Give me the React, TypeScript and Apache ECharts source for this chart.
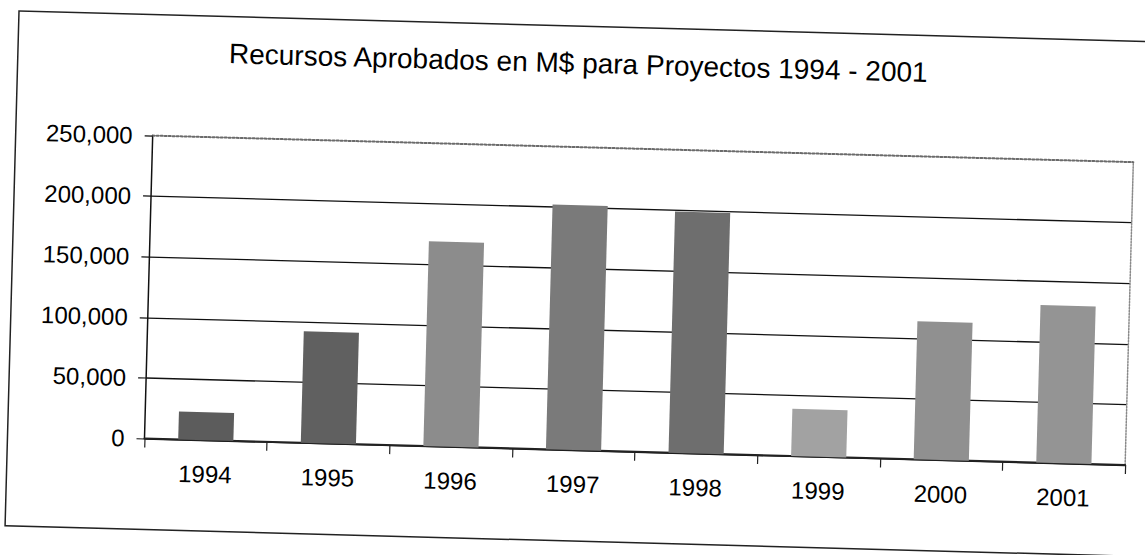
import React, { useEffect, useRef } from "react";
import * as echarts from "echarts";

const title = "Recursos Aprobados en M$ para Proyectos 1994 - 2001";
const categories = ["1994", "1995", "1996", "1997", "1998", "1999", "2000", "2001"];
const values = [23000, 92000, 169000, 202000, 199000, 39000, 114000, 130000];
const barTones = ["#5c5c5c", "#606060", "#8c8c8c", "#7a7a7a", "#6e6e6e", "#a2a2a2", "#909090", "#949494"];
const yMin = 0;
const yMax = 250000;
const yStep = 50000;

const FONT = "Arial, 'Liberation Sans', sans-serif";

export default function App() {
  const ref = useRef<HTMLDivElement>(null);

  useEffect(() => {
    if (!ref.current) return;
    const chart = echarts.init(ref.current, null, { renderer: "svg" });
    chart.setOption({
      animation: false,
      backgroundColor: "transparent",
      title: {
        text: title,
        left: "center",
        top: 44,
        textStyle: { fontFamily: FONT, fontSize: 28, fontWeight: "normal", color: "#000" },
      },
      graphic: [
        {
          type: "rect",
          silent: true,
          shape: { x: 12, y: 26, width: 1160, height: 515 },
          style: { fill: "none", stroke: "#222", lineWidth: 1.5 },
        },
      ],
      grid: { left: 149, right: 15, top: 147, bottom: 105, containLabel: false },
      xAxis: [
        {
          type: "category",
          data: categories,
          position: "bottom",
          axisLine: { show: true, onZero: false, lineStyle: { color: "#222", width: 2 } },
          axisTick: { show: true, length: 9, lineStyle: { color: "#222", width: 1.2 } },
          axisLabel: { fontFamily: FONT, fontSize: 24, color: "#000", margin: 22 },
          splitLine: { show: false },
        },
        {
          type: "category",
          data: categories,
          position: "top",
          axisLine: { show: true, onZero: false, lineStyle: { color: "#6a6a6a", width: 2, type: "dotted" } },
          axisTick: { show: false },
          axisLabel: { show: false },
          splitLine: { show: false },
        },
      ],
      yAxis: [
        {
          type: "value",
          min: yMin,
          max: yMax,
          interval: yStep,
          position: "left",
          axisLine: { show: true, onZero: false, lineStyle: { color: "#111", width: 1.5 } },
          axisTick: { show: true, length: 8, lineStyle: { color: "#111", width: 1.2 } },
          axisLabel: {
            fontFamily: FONT,
            fontSize: 24,
            color: "#000",
            margin: 20,
            formatter: (v: number) => v.toLocaleString("en-US"),
          },
          splitLine: { show: true, showMaxLine: false, lineStyle: { color: "#111", width: 1.3 } },
        },
        {
          type: "value",
          min: yMin,
          max: yMax,
          interval: yStep,
          position: "right",
          axisLine: { show: true, onZero: false, lineStyle: { color: "#8a8a8a", width: 1.5, type: "dotted" } },
          axisTick: { show: false },
          axisLabel: { show: false },
          splitLine: { show: false },
        },
      ],
      series: [
        {
          type: "bar",
          xAxisIndex: 0,
          yAxisIndex: 0,
          barWidth: "45%",
          data: values.map((v, i) => ({ value: v, itemStyle: { color: barTones[i] } })),
        },
      ],
    });
    return () => chart.dispose();
  }, []);

  return (
    <div
      style={{
        position: "fixed",
        left: 0,
        top: 0,
        width: 1145,
        height: 555,
        background: "#fff",
        overflow: "hidden",
      }}
    >
      <div
        ref={ref}
        style={{ width: 1145, height: 555, transform: "rotate(1.55deg)", transformOrigin: "50% 50%" }}
      />
    </div>
  );
}
